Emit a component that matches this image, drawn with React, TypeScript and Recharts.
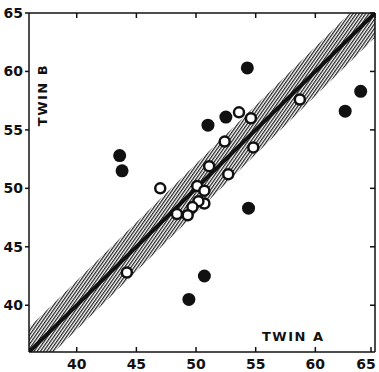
import React from "react";
import {
  Area,
  ComposedChart,
  Line,
  Scatter,
  XAxis,
  YAxis,
} from "recharts";

// twin pairs (Twin A on x, Twin B on y)
const filledA = [43.6, 43.8, 54.3, 51.0, 52.5, 62.5, 63.8, 54.4, 50.7, 49.4];
const filledB = [52.8, 51.5, 60.3, 55.4, 56.1, 56.6, 58.3, 48.3, 42.5, 40.5];

const openA = [47.0, 44.2, 53.6, 54.6, 58.7, 52.4, 54.8, 51.1, 52.7, 50.1, 50.7, 50.7, 50.2, 49.7, 49.3, 48.4];
const openB = [50.0, 42.8, 56.5, 56.0, 57.6, 54.0, 53.5, 51.9, 51.2, 50.2, 49.8, 48.7, 48.9, 48.4, 47.7, 47.8];

// identity line and the shaded band around it
const lineA = [36, 65];
const lineB = [36, 65];
const bandLow = [33.9, 62.9];
const bandHigh = [38.1, 67.1];

const ticks = [40, 45, 50, 55, 60, 65];
const domain: [number, number] = [36, 65];

const filled = filledA.map((a, i) => ({ a, b: filledB[i] }));
const open = openA.map((a, i) => ({ a, b: openB[i] }));
const band = lineA.map((a, i) => ({ a, diag: lineB[i], band: [bandLow[i], bandHigh[i]] }));

const ink = "#111";
const font = "'DejaVu Sans', sans-serif";

const BottomTick = (props: any) => {
  const { x, y, payload } = props;
  // last label sits on the right edge, nudge it in so it isn't clipped
  const tx = payload.value === ticks[ticks.length - 1] ? x - 5 : x;
  return (
    <g>
      <line x1={x} x2={x} y1={y} y2={y - 5} stroke={ink} strokeWidth={1.5} />
      <text x={tx} y={y + 17} textAnchor="middle" fontFamily={font} fontWeight={700} fontSize={14} fill={ink}>
        {payload.value}
      </text>
    </g>
  );
};

const FilledDot = (props: any) => <circle cx={props.cx} cy={props.cy} r={6.5} fill={ink} />;
const OpenDot = (props: any) => (
  <circle cx={props.cx} cy={props.cy} r={5} fill="#fff" stroke={ink} strokeWidth={2.5} />
);

export default function App() {
  return (
    <div style={{ position: "absolute", left: 0, top: 0, width: 379, height: 372, background: "#fff" }}>
      <ComposedChart
        width={379}
        height={372}
        data={band}
        margin={{ top: 13, right: 4, bottom: 0, left: 0 }}
      >
        <defs>
          <pattern id="hatch" width="2.6" height="3" patternUnits="userSpaceOnUse" patternTransform="rotate(35)">
            <rect width="2.6" height="3" fill="#fff" />
            <line x1="0.6" y1="0" x2="0.6" y2="3" stroke="#222" strokeWidth={1.3} />
          </pattern>
        </defs>
        <XAxis
          dataKey="a"
          type="number"
          domain={domain}
          ticks={ticks}
          allowDataOverflow
          height={20}
          stroke={ink}
          strokeWidth={1.5}
          tickLine={false}
          tickSize={0}
          tickMargin={0}
          tick={<BottomTick />}
        />
        <XAxis
          xAxisId="top"
          dataKey="a"
          orientation="top"
          type="number"
          domain={domain}
          ticks={ticks}
          allowDataOverflow
          height={1}
          mirror
          stroke={ink}
          strokeWidth={1.5}
          tickSize={5}
          tickFormatter={() => ""}
        />
        <YAxis
          type="number"
          domain={domain}
          ticks={ticks}
          allowDataOverflow
          width={29}
          stroke={ink}
          strokeWidth={1.5}
          tickSize={4}
          tickMargin={2}
          tick={{ fontFamily: font, fontWeight: 700, fontSize: 14, fill: ink }}
        />
        <YAxis
          yAxisId="right"
          orientation="right"
          type="number"
          domain={domain}
          ticks={ticks}
          allowDataOverflow
          width={1}
          mirror
          stroke={ink}
          strokeWidth={1.5}
          tickSize={5}
          tickFormatter={() => ""}
        />
        <Area
          dataKey="band"
          type="linear"
          stroke="none"
          fill="url(#hatch)"
          fillOpacity={1}
          isAnimationActive={false}
        />
        <Line
          dataKey="diag"
          type="linear"
          stroke={ink}
          strokeWidth={4}
          dot={false}
          isAnimationActive={false}
        />
        <Line
          dataKey="diag"
          xAxisId="top"
          yAxisId="right"
          stroke="none"
          dot={false}
          legendType="none"
          isAnimationActive={false}
        />
        <Scatter data={open} dataKey="b" shape={<OpenDot />} isAnimationActive={false} />
        <Scatter data={filled} dataKey="b" shape={<FilledDot />} isAnimationActive={false} />
      </ComposedChart>
      <div
        style={{
          position: "absolute",
          left: 262,
          top: 329,
          fontFamily: font,
          fontWeight: 700,
          fontSize: 13,
          letterSpacing: 1.5,
          color: ink,
        }}
      >
        TWIN A
      </div>
      <div
        style={{
          position: "absolute",
          left: 42,
          top: 95,
          transform: "translate(-50%, -50%) rotate(-90deg)",
          fontFamily: font,
          fontWeight: 700,
          fontSize: 13,
          letterSpacing: 1.5,
          color: ink,
          whiteSpace: "nowrap",
        }}
      >
        TWIN B
      </div>
    </div>
  );
}
